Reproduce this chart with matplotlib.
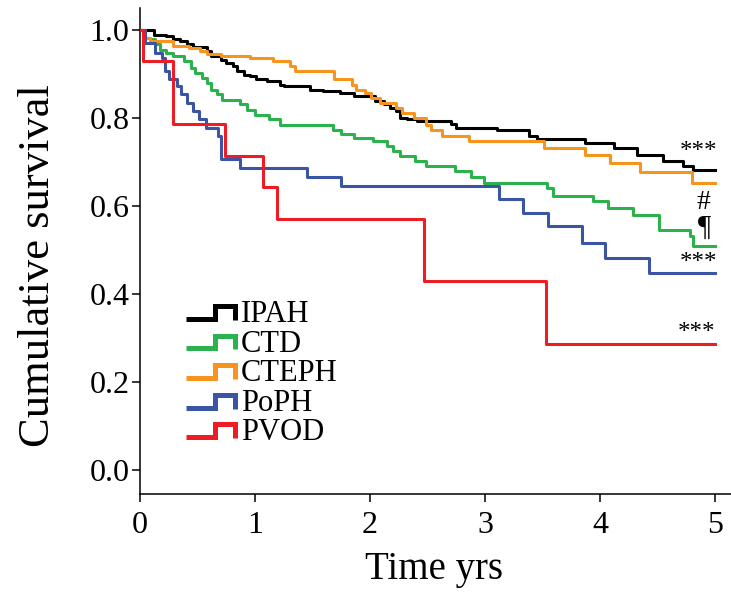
import matplotlib
matplotlib.use("Agg")
import matplotlib.pyplot as plt
from matplotlib.legend_handler import HandlerBase
from matplotlib.lines import Line2D

plt.rcParams['font.family'] = ['Liberation Serif', 'DejaVu Serif']

# ---- data ----
groups = ["IPAH", "CTD", "CTEPH", "PoPH", "PVOD"]
colors = ["#000000", "#2bb24c", "#f7941d", "#3b55a5", "#ee1c25"]
end_time = 5.0

ipah_t = [0, 0.12, 0.23, 0.29, 0.35, 0.41, 0.46, 0.58, 0.62, 0.70, 0.75, 0.81, 0.84,
          0.90, 0.96, 1.01, 1.10, 1.22, 1.25, 1.48, 1.59, 1.74, 1.86, 2.04, 2.12,
          2.17, 2.23, 2.26, 2.32, 2.41, 2.70, 2.75, 3.10, 3.38, 3.45, 3.87, 4.12,
          4.32, 4.55, 4.72, 4.81]
ipah_s = [1.0, 0.990, 0.986, 0.981, 0.975, 0.968, 0.962, 0.952, 0.941, 0.933, 0.926,
          0.918, 0.907, 0.899, 0.895, 0.890, 0.884, 0.876, 0.872, 0.865, 0.861, 0.857,
          0.850, 0.838, 0.831, 0.823, 0.816, 0.801, 0.797, 0.793, 0.786, 0.778, 0.772,
          0.759, 0.752, 0.744, 0.732, 0.717, 0.702, 0.690, 0.681]

ctd_t = [0, 0.03, 0.09, 0.13, 0.17, 0.23, 0.29, 0.38, 0.44, 0.48, 0.54, 0.58, 0.62,
         0.67, 0.71, 0.87, 0.93, 1.00, 1.12, 1.22, 1.68, 1.75, 1.86, 2.03, 2.15,
         2.20, 2.26, 2.39, 2.49, 2.74, 2.88, 2.99, 3.54, 3.59, 3.94, 4.07, 4.29,
         4.51, 4.78, 4.81]
ctd_s = [1.0, 0.983, 0.979, 0.968, 0.956, 0.948, 0.941, 0.929, 0.914, 0.903, 0.892,
         0.880, 0.865, 0.854, 0.842, 0.831, 0.819, 0.808, 0.797, 0.785, 0.774, 0.763,
         0.755, 0.747, 0.736, 0.725, 0.713, 0.702, 0.692, 0.680, 0.666, 0.653, 0.641,
         0.622, 0.611, 0.596, 0.580, 0.546, 0.531, 0.508]

cteph_t = [0, 0.04, 0.09, 0.29, 0.43, 0.52, 0.58, 0.70, 0.96, 1.16, 1.30, 1.35, 1.69,
           1.84, 1.88, 1.96, 2.01, 2.09, 2.23, 2.28, 2.38, 2.49, 2.53, 2.63, 2.86,
           3.51, 3.87, 4.09, 4.35, 4.80]
cteph_s = [1.0, 0.983, 0.975, 0.964, 0.960, 0.952, 0.945, 0.941, 0.937, 0.929, 0.918,
           0.907, 0.888, 0.876, 0.865, 0.857, 0.846, 0.835, 0.823, 0.812, 0.801, 0.785,
           0.772, 0.760, 0.749, 0.732, 0.717, 0.698, 0.677, 0.653]

poph_t = [0, 0.04, 0.13, 0.19, 0.22, 0.25, 0.32, 0.36, 0.41, 0.46, 0.51, 0.57, 0.68,
          0.70, 0.87, 1.45, 1.75, 3.12, 3.33, 3.55, 3.84, 4.04, 4.43]
poph_s = [1.0, 0.971, 0.948, 0.937, 0.907, 0.888, 0.872, 0.854, 0.835, 0.816, 0.797,
          0.778, 0.759, 0.706, 0.687, 0.667, 0.645, 0.615, 0.584, 0.554, 0.516, 0.482,
          0.448]

pvod_t = [0, 0.03, 0.29, 0.74, 1.07, 1.19, 2.47, 3.53]
pvod_s = [1.0, 0.929, 0.786, 0.714, 0.643, 0.571, 0.429, 0.286]

annot_text = ["***", "#", "\u00b6", "***", "***"]
annot_x = [4.86, 4.90, 4.91, 4.86, 4.84]
annot_y = [0.722, 0.608, 0.551, 0.471, 0.312]
annot_size = [18, 20, 21, 18, 18]

x_ticks = [0, 1, 2, 3, 4, 5]
y_ticks = [0.0, 0.2, 0.4, 0.6, 0.8, 1.0]
y_ticklabels = ["0.0", "0.2", "0.4", "0.6", "0.8", "1.0"]

series = [(ipah_t, ipah_s), (ctd_t, ctd_s), (cteph_t, cteph_s),
          (poph_t, poph_s), (pvod_t, pvod_s)]


class StepHandler(HandlerBase):
    def create_artists(self, legend, orig_handle, xdescent, ydescent,
                       width, height, fontsize, trans):
        fx = [0.0, 0.6, 0.6, 1.0, 1.0]
        fy = [0.15, 0.15, 0.75, 0.75, 0.1]
        xs = [f * width - xdescent for f in fx]
        ys = [f * height - ydescent for f in fy]
        ln = Line2D(xs, ys, color=orig_handle.get_color(), lw=3.6,
                    solid_joinstyle='miter', solid_capstyle='butt')
        ln.set_transform(trans)
        return [ln]


fig = plt.figure(figsize=(7.31, 5.96), dpi=100)
ax = fig.add_axes([140 / 731, (596 - 494) / 596, 591 / 731, (494 - 8) / 596])

order = [1, 3, 2, 0, 4]
for i in order:
    t, s = series[i]
    ax.step(list(t) + [end_time], list(s) + [s[-1]], where='post',
            color=colors[i], lw=2.2, label=groups[i], zorder=2 + i)
handles_all = {l.get_label(): l for l in ax.get_lines()}
handles = [handles_all[g] for g in groups]

ax.set_xlim(0, 591 / 115)
ax.set_ylim(-0.055, 1.0505)
ax.set_xticks(x_ticks)
ax.set_yticks(y_ticks)
ax.set_yticklabels(y_ticklabels)
for sp in ["top", "right"]:
    ax.spines[sp].set_visible(False)
for sp in ["left", "bottom"]:
    ax.spines[sp].set_linewidth(1.1)
ax.tick_params(direction='out', length=6, width=1.1, labelsize=23)
ax.tick_params(axis='y', pad=1.5)
ax.tick_params(axis='x', pad=6)

ax.set_xlabel("Time yrs", fontsize=28)
ax.set_ylabel("Cumulative survival", fontsize=32)
ax.xaxis.set_label_coords((434 - 140) / 591, (494 - 551) / 486)
ax.yaxis.set_label_coords((58 - 140) / 591, (494 - 266) / 486)

for txt, x, y, fs in zip(annot_text, annot_x, annot_y, annot_size):
    ax.text(x, y, txt, fontsize=fs, ha='center', va='center')

ax.legend(handles, groups, handler_map={h: StepHandler() for h in handles},
          loc='upper left', bbox_to_anchor=((186 - 140) / 591, (494 - 300) / 486),
          frameon=False, fontsize=22, handlelength=1.6, handletextpad=0.2,
          labelspacing=0.02, borderaxespad=0, borderpad=0, handleheight=0.7)

fig.savefig("out.png", dpi=100)
